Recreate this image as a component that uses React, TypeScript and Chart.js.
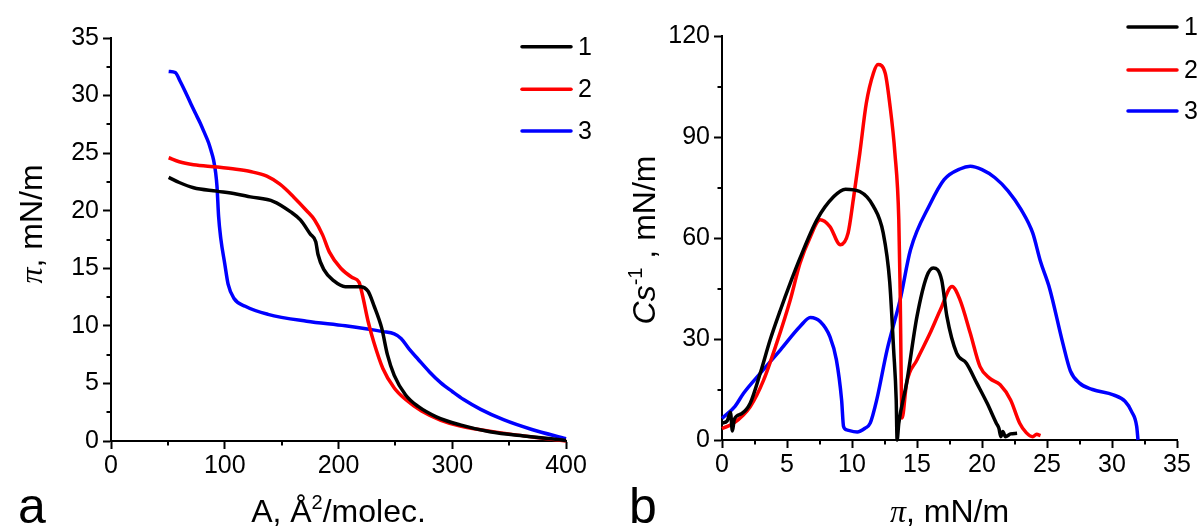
import React, { useEffect, useRef } from "react";
import { Chart, registerables } from "chart.js";

Chart.register(...registerables);

// ---------- Data: panel a (isotherms) ----------
const seriesLabels = ["1", "2", "3"];
const seriesColors = ["#000000", "#ff0000", "#0000ff"];

const areaCurve1 = [50.7, 60, 72.6, 93, 110, 122.5, 143, 158, 166.5, 175, 180, 182, 187, 196, 206, 219, 226, 231, 238, 243, 249, 259, 270, 286, 307, 333, 367, 400];
const piCurve1 = [22.9, 22.45, 22.0, 21.7, 21.45, 21.2, 20.8, 19.9, 19.2, 18.0, 17.3, 16.2, 14.9, 13.9, 13.4, 13.4, 13.0, 11.8, 9.8, 7.5, 5.7, 4.0, 3.0, 2.1, 1.4, 0.8, 0.4, 0.05];

const areaCurve2 = [50.7, 60, 72.6, 93, 110, 122.5, 137, 148.5, 160.5, 172, 179, 186, 192, 202, 212, 218, 221, 226, 231, 239, 249, 259, 273, 290, 307, 340, 374, 400];
const piCurve2 = [24.6, 24.25, 24.0, 23.8, 23.6, 23.4, 23.0, 22.3, 21.2, 20.0, 19.2, 17.9, 16.4, 15.0, 14.2, 13.8, 12.7, 10.4, 8.6, 6.3, 4.6, 3.6, 2.6, 1.8, 1.3, 0.75, 0.3, 0.0];

const areaCurve3 = [50.7, 56.5, 61, 65, 69.7, 74, 78.5, 82, 85.8, 88, 90.2, 92, 93.2, 94.6, 96.5, 100, 103, 108, 118, 138, 172, 206, 239, 249, 255, 262, 270, 280, 290, 300, 310, 325, 345, 370, 400];
const piCurve3 = [32.1, 32.0, 31.2, 30.4, 29.4, 28.5, 27.6, 26.8, 25.9, 25.2, 24.4, 23.3, 22.1, 19.5, 17.6, 15.4, 13.6, 12.4, 11.7, 11.0, 10.4, 10.0, 9.5, 9.3, 8.9, 8.0, 7.1, 6.0, 5.05, 4.3, 3.6, 2.75, 1.85, 1.0, 0.2];

// ---------- Data: panel b (compression modulus) ----------
const piModulus1 = [0, 0.4, 0.65, 0.8, 0.95, 1.5, 2.17, 2.94, 3.7, 4.5, 5.25, 6.0, 7.3, 8.6, 9.5, 10.6, 11.65, 12.4, 12.9, 13.2, 13.4, 13.47, 13.6, 14.2, 15.0, 15.75, 16.25, 16.9, 17.3, 18.05, 18.8, 19.6, 20.4, 21.1, 21.3, 21.45, 21.6, 21.8, 22.2, 22.7];
const csModulus1 = [5.0, 5.7, 8.2, 2.7, 6.2, 7.8, 10.9, 19.8, 29.7, 38.7, 46.6, 54.0, 65.4, 72.3, 74.5, 73.8, 69.4, 61.5, 47, 27, 12, 0, 5.0, 16.9, 36.7, 48.6, 51.1, 47.5, 36.7, 25.8, 22.8, 16.9, 10.9, 5.0, 3.5, 1.0, 2.5, 1.0, 1.8, 2.0];

const piModulus2 = [0, 0.9, 2.17, 3.2, 4.2, 5.25, 6.0, 6.8, 7.55, 8.3, 9.1, 9.7, 10.1, 10.6, 11.1, 11.65, 12.0, 12.55, 12.9, 13.3, 13.6, 13.7, 13.85, 14.2, 15.0, 16.0, 16.8, 17.7, 18.3, 19.1, 19.85, 20.6, 21.4, 22.2, 22.9, 23.4, 23.9, 24.2, 24.5];
const csModulus2 = [3.4, 5.0, 9.9, 17.8, 28.7, 41.6, 52.5, 60.4, 65.4, 63.4, 58, 61.5, 71.4, 85.2, 100, 109, 111.5, 109, 100, 85.2, 65.4, 45, 6.5, 16.9, 23.8, 31.7, 38.7, 45.6, 41.7, 31.7, 21.8, 18.3, 16.4, 11.9, 5.0, 2.2, 1.0, 1.7, 1.3];

const piModulus3 = [0, 1.0, 1.66, 2.94, 4.5, 6.0, 6.8, 7.55, 8.3, 8.8, 9.2, 9.35, 9.6, 10.4, 11.0, 11.4, 11.9, 12.7, 13.7, 14.5, 16.0, 17.1, 18.3, 19.1, 20.0, 21.0, 22.0, 23.0, 23.9, 24.5, 25.2, 26.2, 26.8, 27.5, 28.5, 30.1, 31.0, 31.5, 31.9, 32.0];
const csModulus3 = [6.4, 10.0, 13.9, 19.8, 26.8, 33.7, 36.4, 35.2, 30.7, 23.8, 11.9, 4.0, 3.0, 2.4, 3.5, 5.0, 11.9, 26.8, 41.6, 56.5, 70, 77.4, 80.5, 81.3, 80.3, 77.9, 74, 68.5, 61.5, 53, 45, 29, 20.5, 16.9, 15.0, 13.4, 11.5, 8.5, 4.0, 0];

// ---------- Axis ticks ----------
const areaTicks = { min: 0, max: 400, minor: 50, major: 100 };
const piTicksA = { min: 0, max: 35, minor: 2.5, major: 5 };
const piTicksB = { min: 0, max: 35, minor: 2.5, major: 5 };
const csTicks = { min: 0, max: 120, minor: 15, major: 30 };

const SANS = '"Liberation Sans", Arial, sans-serif';
const SERIF = '"Liberation Serif", "Times New Roman", serif';

type Run = { text: string; font: string; dy?: number };

function drawRuns(ctx: CanvasRenderingContext2D, runs: Run[], x: number, y: number, align: "center" | "left") {
  ctx.textAlign = "left";
  ctx.textBaseline = "alphabetic";
  let total = 0;
  runs.forEach((r) => {
    ctx.font = r.font;
    total += ctx.measureText(r.text).width;
  });
  let cx = align === "center" ? x - total / 2 : x;
  runs.forEach((r) => {
    ctx.font = r.font;
    ctx.fillText(r.text, cx, y + (r.dy || 0));
    cx += ctx.measureText(r.text).width;
  });
}

const isMajor = (v: number, major: number) => Math.abs(v / major - Math.round(v / major)) < 1e-6;

function makeAxis(t: { min: number; max: number; minor: number; major: number }, isY: boolean, fit: number) {
  return {
    type: "linear",
    min: t.min,
    max: t.max,
    border: { display: true, color: "#000", width: 2 },
    grid: {
      drawOnChartArea: false,
      drawTicks: true,
      tickLength: 8,
      tickWidth: 2,
      tickColor: (c: any) => (c.tick && isMajor(c.tick.value, t.major) ? "#000" : "rgba(0,0,0,0)"),
    },
    ticks: {
      stepSize: t.minor,
      autoSkip: false,
      maxTicksLimit: 100,
      maxRotation: 0,
      minRotation: 0,
      padding: isY ? 4 : 2,
      color: "#000",
      font: { family: SANS, size: 25 },
      callback: (v: any) => (isMajor(Number(v), t.major) ? String(v) : ""),
    },
    afterFit: (s: any) => {
      if (isY) s.width = fit;
      else s.height = fit;
    },
  };
}

type Panel = {
  xs: number[][];
  ys: number[][];
  xTicks: any;
  yTicks: any;
  yFit: number;
  xFit: number;
  padding: { left: number; right: number; top: number; bottom: number };
  xTitle: Run[];
  xTitleX: number;
  yTitle: Run[];
  yTitleX: number;
  yTitleY: number;
  letter: string;
  letterX: number;
  legendX: number;
  legendY: number[];
};

function makePlugin(p: Panel) {
  return {
    id: "decor",
    afterDraw(chart: any) {
      const ctx: CanvasRenderingContext2D = chart.ctx;
      const area = chart.chartArea;
      ctx.save();
      // minor ticks
      ctx.strokeStyle = "#000";
      ctx.lineWidth = 2;
      const xs = chart.scales.x;
      const ys = chart.scales.y;
      for (let v = p.xTicks.min; v <= p.xTicks.max + 1e-9; v += p.xTicks.minor) {
        if (isMajor(v, p.xTicks.major)) continue;
        const px = Math.round(xs.getPixelForValue(v));
        ctx.beginPath();
        ctx.moveTo(px, area.bottom);
        ctx.lineTo(px, area.bottom + 4.5);
        ctx.stroke();
      }
      for (let v = p.yTicks.min; v <= p.yTicks.max + 1e-9; v += p.yTicks.minor) {
        if (isMajor(v, p.yTicks.major)) continue;
        const py = Math.round(ys.getPixelForValue(v));
        ctx.beginPath();
        ctx.moveTo(area.left - 4.5, py);
        ctx.lineTo(area.left, py);
        ctx.stroke();
      }
      ctx.fillStyle = "#000";
      // x title
      drawRuns(ctx, p.xTitle, p.xTitleX, 522, "center");
      // y title
      ctx.save();
      ctx.translate(p.yTitleX, p.yTitleY);
      ctx.rotate(-Math.PI / 2);
      drawRuns(ctx, p.yTitle, 0, 0, "center");
      ctx.restore();
      // panel letter
      drawRuns(ctx, [{ text: p.letter, font: `50px ${SANS}` }], p.letterX, 523, "left");
      // legend
      chart.data.datasets.forEach((ds: any, i: number) => {
        const y = p.legendY[i];
        ctx.strokeStyle = ds.borderColor;
        ctx.lineWidth = 3.5;
        ctx.lineCap = "round";
        ctx.beginPath();
        ctx.moveTo(p.legendX, y);
        ctx.lineTo(p.legendX + 49, y);
        ctx.stroke();
        ctx.fillStyle = "#000";
        ctx.font = `25px ${SANS}`;
        ctx.textAlign = "left";
        ctx.textBaseline = "middle";
        ctx.fillText(ds.label, p.legendX + 56, y + 1);
      });
      ctx.restore();
    },
  };
}

function ChartPanel({ panel, left }: { panel: Panel; left: number }) {
  const ref = useRef<HTMLCanvasElement>(null);
  useEffect(() => {
    if (!ref.current) return;
    const datasets = panel.xs.map((xArr, i) => ({
      label: seriesLabels[i],
      data: xArr.map((x, j) => ({ x, y: panel.ys[i][j] })),
      borderColor: seriesColors[i],
      backgroundColor: seriesColors[i],
      borderWidth: 3.5,
      pointRadius: 0,
      showLine: true,
      fill: false,
      cubicInterpolationMode: "monotone",
      clip: false,
    }));
    const chart = new Chart(ref.current, {
      type: "scatter",
      data: { datasets },
      options: {
        animation: false,
        responsive: false,
        devicePixelRatio: 1,
        layout: { padding: panel.padding },
        plugins: { legend: { display: false }, tooltip: { enabled: false }, title: { display: false } },
        scales: {
          x: makeAxis(panel.xTicks, false, panel.xFit),
          y: makeAxis(panel.yTicks, true, panel.yFit),
        },
      } as any,
      plugins: [makePlugin(panel)],
    } as any);
    return () => chart.destroy();
  }, [panel]);
  return (
    <div style={{ position: "absolute", left, top: 0, width: 600, height: 526 }}>
      <canvas ref={ref} width={600} height={526} style={{ display: "block" }} />
    </div>
  );
}

const panelA: Panel = {
  xs: [areaCurve1, areaCurve2, areaCurve3],
  ys: [piCurve1, piCurve2, piCurve3],
  xTicks: areaTicks,
  yTicks: piTicksA,
  yFit: 111,
  xFit: 85,
  padding: { left: 0, right: 34, top: 38, bottom: 0 },
  xTitle: [
    { text: "A, Å", font: `32px ${SANS}` },
    { text: "2", font: `20px ${SANS}`, dy: -13 },
    { text: "/molec.", font: `32px ${SANS}` },
  ],
  xTitleX: 338.5,
  yTitle: [
    { text: "π", font: `italic 32px ${SERIF}` },
    { text: ", mN/m", font: `32px ${SANS}` },
  ],
  yTitleX: 42,
  yTitleY: 224,
  letter: "a",
  letterX: 18,
  legendX: 522,
  legendY: [46.7, 89.3, 131],
};

const panelB: Panel = {
  xs: [piModulus1, piModulus2, piModulus3],
  ys: [csModulus1, csModulus2, csModulus3],
  xTicks: piTicksB,
  yTicks: csTicks,
  yFit: 122,
  xFit: 86,
  padding: { left: 0, right: 23, top: 36, bottom: 0 },
  xTitle: [
    { text: "π", font: `italic 32px ${SERIF}` },
    { text: ", mN/m", font: `32px ${SANS}` },
  ],
  xTitleX: 349.5,
  yTitle: [
    { text: "Cs", font: `italic 32px ${SANS}` },
    { text: "-1", font: `20px ${SANS}`, dy: -13 },
    { text: " , mN/m", font: `32px ${SANS}` },
  ],
  yTitleX: 55,
  yTitleY: 240,
  letter: "b",
  letterX: 29,
  legendX: 528,
  legendY: [27, 70, 111],
};

export default function App() {
  return (
    <div style={{ position: "absolute", left: 0, top: 0, width: 1200, height: 526, background: "#fff", overflow: "hidden" }}>
      <ChartPanel panel={panelA} left={0} />
      <ChartPanel panel={panelB} left={600} />
    </div>
  );
}
